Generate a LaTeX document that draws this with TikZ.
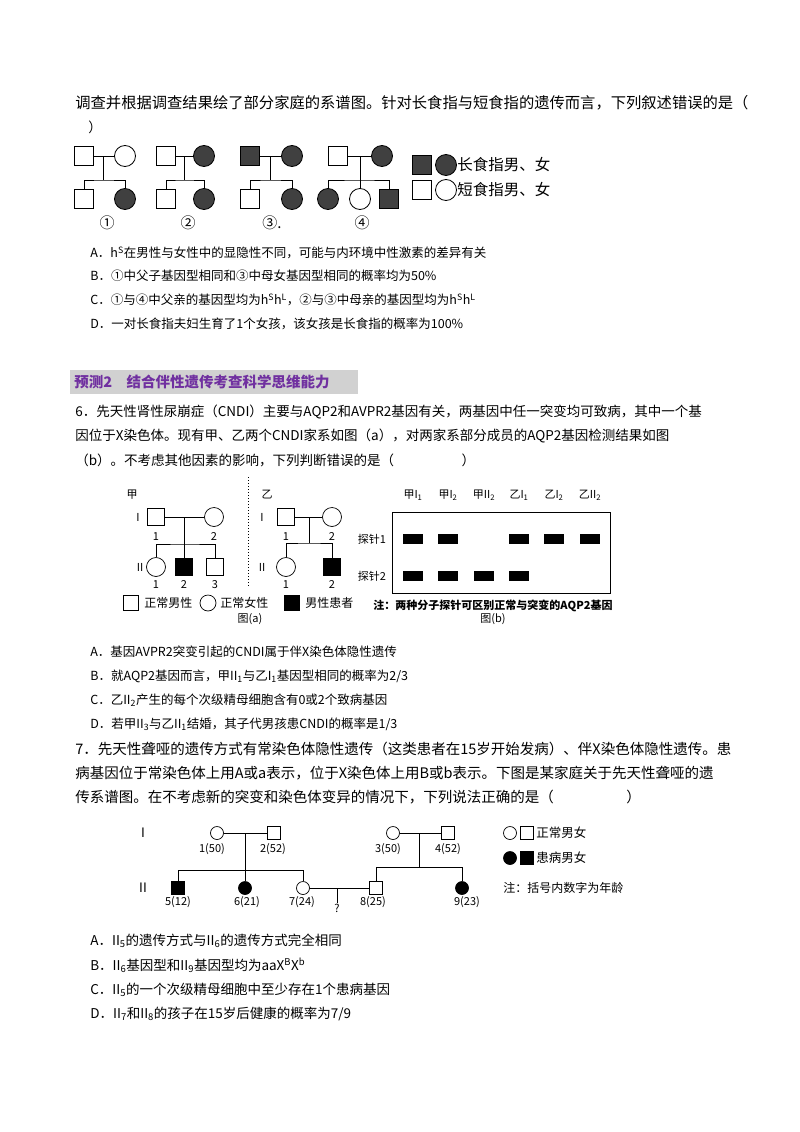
\documentclass[tikz,border=0pt]{standalone}
\usepackage{fontspec}
\setmainfont{Noto Sans CJK SC}
\definecolor{headpurple}{RGB}{112,48,160}
\tikzset{
  txt/.style={anchor=west, inner sep=0pt, font=\fontsize{13.5}{15}\selectfont},
  opt/.style={anchor=west, inner sep=0pt, font=\fontsize{12.5}{14}\selectfont},
  lbl/.style={inner sep=0pt, font=\fontsize{11}{12}\selectfont},
  sq/.style={draw, minimum size=19pt, inner sep=0pt, line width=0.8pt},
  ci/.style={draw, circle, minimum size=21pt, inner sep=0pt, line width=0.8pt},
  sqs/.style={draw, minimum size=17pt, inner sep=0pt},
  cis/.style={draw, circle, minimum size=19pt, inner sep=0pt},
  sqt/.style={draw, minimum size=13pt, inner sep=0pt},
  cit/.style={draw, circle, minimum size=13pt, inner sep=0pt},
  band/.style={fill=black, minimum width=20pt, minimum height=10pt, inner sep=0pt},
  ill/.style={fill=black!75}
}
\begin{document}
\begin{tikzpicture}[x=1pt,y=-1pt,line width=0.7pt]
\useasboundingbox (0,0) rectangle (800,1132);

% question 5 text
\node[txt, font=\fontsize{15.3}{16}\selectfont] (q5a) at (75,103) {调查并根据调查结果绘了部分家庭的系谱图。针对长食指与短食指的遗传而言，下列叙述错误的是（};
\node[txt] (q5b) at (88,127) {）};

% family 1
\node[sq] (f1) at (84,156) {};
\node[ci] (m1) at (125,156) {};
\node[sq] (c1a) at (84,199) {};
\node[ci, ill] (c1b) at (125,199) {};
\coordinate (j1) at (103,156);
\coordinate (s1) at (103,180);
\draw (f1) -- (m1);
\draw (j1) -- (s1);
\draw (c1a.north) |- (s1) -| (c1b.north);
\node[lbl, font=\fontsize{15}{16}\selectfont] (n1) at (107,223) {①};

% family 2
\node[sq] (f2) at (166,156) {};
\node[ci, ill] (m2) at (204,156) {};
\node[sq] (c2a) at (166,199) {};
\node[ci, ill] (c2b) at (204,199) {};
\coordinate (j2) at (184,156);
\coordinate (s2) at (184,180);
\draw (f2) -- (m2);
\draw (j2) -- (s2);
\draw (c2a.north) |- (s2) -| (c2b.north);
\node[lbl, font=\fontsize{15}{16}\selectfont] (n2) at (188,223) {②};

% family 3
\node[sq, ill] (f3) at (250,156) {};
\node[ci, ill] (m3) at (292,156) {};
\node[sq] (c3a) at (250,199) {};
\node[ci, ill] (c3b) at (292,199) {};
\coordinate (j3) at (270,156);
\coordinate (s3) at (270,180);
\draw (f3) -- (m3);
\draw (j3) -- (s3);
\draw (c3a.north) |- (s3) -| (c3b.north);
\node[lbl, font=\fontsize{15}{16}\selectfont] (n3) at (272,223) {③.};

% family 4
\node[sq] (f4) at (338,156) {};
\node[ci, ill] (m4) at (382,156) {};
\node[ci, ill] (c4a) at (328,199) {};
\node[ci] (c4b) at (360,199) {};
\node[sq, ill] (c4c) at (389,199) {};
\coordinate (j4) at (360,156);
\coordinate (s4) at (360,180);
\draw (f4) -- (m4);
\draw (j4) -- (c4b.north);
\draw (c4a.north) |- (s4) -| (c4c.north);
\node[lbl, font=\fontsize{15}{16}\selectfont] (n4) at (362,223) {④};

% legend 1
\node[sq, ill] (lg1) at (422,165) {};
\node[ci, ill] (lg2) at (446,165) {};
\node[txt, font=\fontsize{15.5}{17}\selectfont] (lg3) at (457,165) {长食指男、女};
\node[sq] (lg4) at (422,190) {};
\node[ci] (lg5) at (446,190) {};
\node[txt, font=\fontsize{15.5}{17}\selectfont] (lg6) at (457,190) {短食指男、女};

% options 5
\node[opt] (o5a) at (90,253) {A．h\textsuperscript{S}在男性与女性中的显隐性不同，可能与内环境中性激素的差异有关};
\node[opt] (o5b) at (90,276) {B．①中父子基因型相同和③中母女基因型相同的概率均为50\%};
\node[opt] (o5c) at (90,300) {C．①与④中父亲的基因型均为h\textsuperscript{S}h\textsuperscript{L}，②与③中母亲的基因型均为h\textsuperscript{S}h\textsuperscript{L}};
\node[opt] (o5d) at (90,324) {D．一对长食指夫妇生育了1个女孩，该女孩是长食指的概率为100\%};

% heading
\fill[black!18] (70,370) rectangle (358,394);
\node[txt, font=\fontsize{14.5}{16}\selectfont\bfseries, text=headpurple] (hd) at (74,382) {预测2\quad 结合伴性遗传考查科学思维能力};

% question 6 text
\node[txt] (q6a) at (75,412) {6．先天性肾性尿崩症（CNDI）主要与AQP2和AVPR2基因有关，两基因中任一突变均可致病，其中一个基};
\node[txt] (q6b) at (75,436) {因位于X染色体。现有甲、乙两个CNDI家系如图（a），对两家系部分成员的AQP2基因检测结果如图};
\node[txt] (q6c) at (75,460) {（b）。不考虑其他因素的影响，下列判断错误的是（\hspace{5em}）};

% figure (a), family jia
\node[lbl] (ja) at (132,495) {甲};
\node[lbl] (jI) at (138,517) {I};
\node[sqs] (j11) at (156,517) {};
\node[cis] (j12) at (214,517) {};
\node[lbl] (j11n) at (156,537) {1};
\node[lbl] (j12n) at (214,537) {2};
\coordinate (jj) at (184,517);
\coordinate (js) at (184,544);
\draw (j11) -- (j12);
\draw (jj) -- (js);
\node[lbl] (jII) at (140,567) {II};
\node[cis] (j21) at (156,567) {};
\node[sqs, fill=black] (j22) at (184,567) {};
\node[sqs] (j23) at (215,567) {};
\draw (js) -- (j22.north);
\draw (j21.north) |- (js) -| (j23.north);
\node[lbl] (j21n) at (156,585) {1};
\node[lbl] (j22n) at (184,585) {2};
\node[lbl] (j23n) at (215,585) {3};

\draw[dotted, line width=1pt] (248,477) -- (248,587);

% family yi
\node[lbl] (ya) at (267,495) {乙};
\node[lbl] (yI) at (262,517) {I};
\node[sqs] (y11) at (286,517) {};
\node[cis] (y12) at (332,517) {};
\node[lbl] (y11n) at (286,537) {1};
\node[lbl] (y12n) at (332,537) {2};
\coordinate (yj) at (309,517);
\coordinate (ys) at (309,543);
\draw (y11) -- (y12);
\draw (yj) -- (ys);
\node[lbl] (yII) at (262,567) {II};
\node[cis] (y21) at (286,567) {};
\node[sqs, fill=black] (y22) at (332,567) {};
\draw (y21.north) |- (ys) -| (y22.north);
\node[lbl] (y21n) at (286,585) {1};
\node[lbl] (y22n) at (332,585) {2};

% legend (a)
\node[sqs, minimum size=15pt] (la1) at (131,603) {};
\node[lbl, anchor=west, font=\fontsize{12}{13}\selectfont] (la2) at (144,603) {正常男性};
\node[cis, minimum size=16pt] (la3) at (208,603) {};
\node[lbl, anchor=west, font=\fontsize{12}{13}\selectfont] (la4) at (220,603) {正常女性};
\node[sqs, minimum size=15pt, fill=black] (la5) at (292,603) {};
\node[lbl, anchor=west, font=\fontsize{12}{13}\selectfont] (la6) at (305,603) {男性患者};
\node[lbl] (capa) at (250,619) {图(a)};

% figure (b)
\node[draw, line width=0.9pt, minimum width=218pt, minimum height=81pt, inner sep=0pt] (gel) at (501,552.5) {};
\foreach \x/\t [count=\i] in {413/甲I\textsubscript{1}, 448/甲I\textsubscript{2}, 484/甲II\textsubscript{2}, 519/乙I\textsubscript{1}, 554/乙I\textsubscript{2}, 590/乙II\textsubscript{2}}
  \node[lbl] (col\i) at (\x,495) {\t};
\node[lbl] (pr1) at (372,539) {探针1};
\node[lbl] (pr2) at (372,576) {探针2};
\foreach \x [count=\i] in {413,448,519,554,590}
  \node[band] (ba\i) at (\x,539) {};
\foreach \x [count=\i] in {413,448,484,519}
  \node[band] (bb\i) at (\x,576) {};
\node[lbl, font=\fontsize{11}{12}\selectfont\bfseries] (note) at (493,606) {注：两种分子探针可区别正常与突变的AQP2基因};
\node[lbl] (capb) at (493,619) {图(b)};

% options 6
\node[opt] (o6a) at (90,652) {A．基因AVPR2突变引起的CNDI属于伴X染色体隐性遗传};
\node[opt] (o6b) at (90,676) {B．就AQP2基因而言，甲II\textsubscript{1}与乙I\textsubscript{1}基因型相同的概率为2/3};
\node[opt] (o6c) at (90,700) {C．乙II\textsubscript{2}产生的每个次级精母细胞含有0或2个致病基因};
\node[opt] (o6d) at (90,724) {D．若甲II\textsubscript{3}与乙II\textsubscript{1}结婚，其子代男孩患CNDI的概率是1/3};

% question 7 text
\node[txt, font=\fontsize{14.5}{16}\selectfont] (q7a) at (75,749) {7．先天性聋哑的遗传方式有常染色体隐性遗传（这类患者在15岁开始发病）、伴X染色体隐性遗传。患};
\node[txt, font=\fontsize{14.5}{16}\selectfont] (q7b) at (75,773) {病基因位于常染色体上用A或a表示，位于X染色体上用B或b表示。下图是某家庭关于先天性聋哑的遗};
\node[txt, font=\fontsize{14.5}{16}\selectfont] (q7c) at (75,797) {传系谱图。在不考虑新的突变和染色体变异的情况下，下列说法正确的是（\hspace{5em}）};

% pedigree 7
\node[lbl, font=\fontsize{13}{14}\selectfont] (pI) at (143,833) {I};
\node[cit] (p1) at (217,833) {};
\node[sqt] (p2) at (274,833) {};
\node[cit] (p3) at (393,833) {};
\node[sqt] (p4) at (448,833) {};
\node[lbl] (p1n) at (212,849) {1(50)};
\node[lbl] (p2n) at (273,849) {2(52)};
\node[lbl] (p3n) at (388,849) {3(50)};
\node[lbl] (p4n) at (448,849) {4(52)};
\node[lbl, font=\fontsize{13}{14}\selectfont] (pII) at (143,888) {II};
\node[sqt, fill=black] (p5) at (178,888) {};
\node[cit, fill=black] (p6) at (245,888) {};
\node[cit] (p7) at (303,888) {};
\node[sqt] (p8) at (376,888) {};
\node[cit, fill=black] (p9) at (462,888) {};
\node[lbl] (p5n) at (178,902) {5(12)};
\node[lbl] (p6n) at (247,902) {6(21)};
\node[lbl] (p7n) at (302,902) {7(24)};
\node[lbl] (p8n) at (373,902) {8(25)};
\node[lbl] (p9n) at (467,902) {9(23)};
\coordinate (pj1) at (245,833);
\coordinate (ps1) at (245,870);
\coordinate (pj2) at (419,833);
\coordinate (ps2) at (419,867);
\coordinate (pj3) at (337,888);
\draw (p1) -- (p2);
\draw (p3) -- (p4);
\draw (pj1) -- (p6.north);
\draw (pj2) -- (ps2);
\draw (p5.north) |- (ps1) -| (p7.north);
\draw (p8.north) |- (ps2) -| (p9.north);
\draw (p7) -- (p8);
\draw (pj3) -- (337,903) node[lbl, below=1pt] (pq) {?};

% legend 7
\node[cit] (lq1) at (510,833) {};
\node[sqt] (lq2) at (527,833) {};
\node[lbl, anchor=west, font=\fontsize{12.5}{14}\selectfont] (lq3) at (536,833) {正常男女};
\node[cit, fill=black] (lq4) at (510,858) {};
\node[sqt, fill=black] (lq5) at (527,858) {};
\node[lbl, anchor=west, font=\fontsize{12.5}{14}\selectfont] (lq6) at (536,858) {患病男女};
\node[lbl, anchor=west, font=\fontsize{12}{13}\selectfont] (lq7) at (503,888) {注：括号内数字为年龄};

% options 7
\node[opt, font=\fontsize{13.5}{15}\selectfont] (o7a) at (90,941) {A．II\textsubscript{5}的遗传方式与II\textsubscript{6}的遗传方式完全相同};
\node[opt, font=\fontsize{13.5}{15}\selectfont] (o7b) at (90,965) {B．II\textsubscript{6}基因型和II\textsubscript{9}基因型均为aaX\textsuperscript{B}X\textsuperscript{b}};
\node[opt, font=\fontsize{13.5}{15}\selectfont] (o7c) at (90,990) {C．II\textsubscript{5}的一个次级精母细胞中至少存在1个患病基因};
\node[opt, font=\fontsize{13.5}{15}\selectfont] (o7d) at (90,1014) {D．II\textsubscript{7}和II\textsubscript{8}的孩子在15岁后健康的概率为7/9};
\end{tikzpicture}
\end{document}
